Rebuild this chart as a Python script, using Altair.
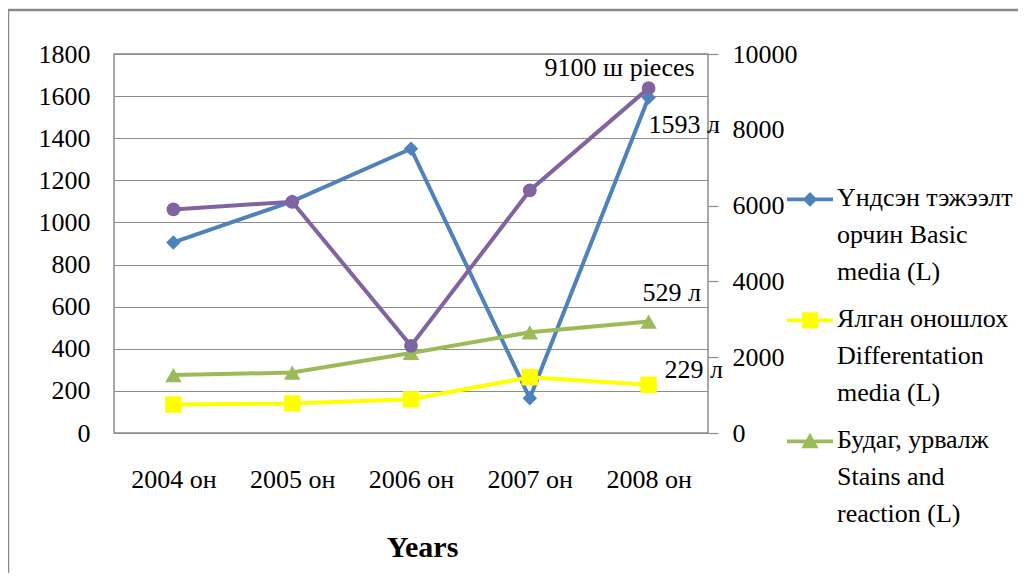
import altair as alt
import pandas as pd

# ---- data ----
years = ["2004 он", "2005 он", "2006 он", "2007 он", "2008 он"]
basic_media = [905, 1100, 1350, 165, 1593]
diff_media = [135, 140, 160, 265, 229]
stains = [275, 287, 380, 478, 529]
pieces = [5900, 6100, 2300, 6400, 9100]

series_names = [
    "Үндсэн тэжээлт|орчин Basic|media (L)",
    "Ялган оношлох|Differentation|media (L)",
    "Будаг, урвалж|Stains and|reaction (L)",
]
series_colors = ["#4F81BD", "#FFFF00", "#9BBB59"]
pieces_color = "#8064A2"
end_labels = ["1593 л", "229 л", "529 л"]
pieces_label = "9100 ш pieces"

FONT = "Liberation Serif"
FS = 26
GRID = "#8c8c8c"

# ---- tables ----
rows = []
for name, vals, lab in zip(series_names, [basic_media, diff_media, stains], end_labels):
    for i, (y, v) in enumerate(zip(years, vals)):
        rows.append({"year": y, "series": name, "value": v,
                     "label": lab if i == len(years) - 1 else ""})
left_df = pd.DataFrame(rows)
right_df = pd.DataFrame({"year": years, "value": pieces,
                         "label": [""] * (len(years) - 1) + [pieces_label]})

x_enc = alt.X("year:N", sort=years, title="Years",
              axis=alt.Axis(labelAngle=0, ticks=False, domain=False, grid=False,
                            labelPadding=33, titlePadding=40, titleFontSize=30,
                            titleFontWeight="bold", titleFont=FONT, titleColor="black",
                            titleX=308))
y_left = alt.Y("value:Q", title=None,
               scale=alt.Scale(domain=[0, 1800], nice=False),
               axis=alt.Axis(values=list(range(0, 1801, 200)), format="d", grid=True,
                             gridColor=GRID, gridWidth=1.2, ticks=False, domain=False,
                             labelPadding=24))
y_right = alt.Y("value:Q", title=None,
                scale=alt.Scale(domain=[0, 10000], nice=False),
                axis=alt.Axis(orient="right", values=list(range(0, 10001, 2000)), format="d",
                              grid=False, ticks=True, tickSize=10, tickColor=GRID,
                              tickWidth=1.2, domain=False, labelPadding=14))

base_left = alt.Chart(left_df)

marker_shapes = ["diamond", "square", "triangle-up"]
marker_sizes = [210, 270, 270]
label_offsets = [(0, 27, "left"), (16, -15, "left"), (-6, -29, "left")]

series_layers = []
for name, col, shp, sz in zip(series_names, series_colors, marker_shapes, marker_sizes):
    sub = base_left.transform_filter(alt.FieldEqualPredicate(field="series", equal=name))
    series_layers.append(sub.mark_line(strokeWidth=4, color=col).encode(x=x_enc, y=y_left))
    series_layers.append(
        sub.mark_point(shape=shp, size=sz, filled=True, opacity=1, color=col)
        .encode(x=x_enc, y=y_left)
    )
label_layers = []
for name, (dx, dy, al) in zip(series_names, label_offsets):
    label_layers.append(
        base_left.transform_filter(alt.FieldEqualPredicate(field="series", equal=name))
        .transform_filter(alt.datum.label != "")
        .mark_text(font=FONT, fontSize=FS, color="black", align=al, baseline="middle",
                   dx=dx, dy=dy)
        .encode(x=x_enc, y=y_left, text="label:N")
    )

# legend: line + marker symbols (only layer that carries colour/shape scales)
legend_paths = [
    "M-2,1.08H2V1.42H-2Z M0,0.6L0.65,1.25L0,1.9L-0.65,1.25Z",
    "M-2,1.08H2V1.42H-2Z M-0.7,0.55H0.7V1.95H-0.7Z",
    "M-2,1.08H2V1.42H-2Z M0,0.5L0.75,1.85H-0.75Z",
]
leg = alt.Legend(title=None, orient="none", legendX=683, legendY=118,
                 labelExpr="split(datum.label, '|')",
                 labelFont=FONT, labelFontSize=FS, labelColor="black", labelLimit=0,
                 labelBaseline="top", labelOffset=14, symbolSize=529, symbolStrokeWidth=0,
                 symbolOpacity=1, rowPadding=8)
legend_layer = base_left.mark_point(filled=True, opacity=0, size=529).encode(
    x=x_enc, y=y_left,
    color=alt.Color("series:N", sort=series_names,
                    scale=alt.Scale(domain=series_names, range=series_colors), legend=leg),
    shape=alt.Shape("series:N", sort=series_names,
                    scale=alt.Scale(domain=series_names, range=legend_paths), legend=leg),
)

left_group = alt.layer(legend_layer, *series_layers, *label_layers)

base_right = alt.Chart(right_df)
right_group = alt.layer(
    base_right.mark_line(strokeWidth=4, color=pieces_color).encode(x=x_enc, y=y_right),
    base_right.mark_point(shape="circle", size=190, filled=True, opacity=1, color=pieces_color)
    .encode(x=x_enc, y=y_right),
    base_right.transform_filter(alt.datum.label != "")
    .mark_text(font=FONT, fontSize=FS, color="black", align="right", baseline="middle",
               dx=46, dy=-20)
    .encode(x=x_enc, y=y_right, text="label:N"),
)

border = alt.Chart(pd.DataFrame({"a": [0]})).mark_rect(
    fillOpacity=0, stroke="#8a8a8a", strokeWidth=2.5
).encode(x=alt.value(-106), x2=alt.value(2000), y=alt.value(-44), y2=alt.value(900))

chart = (
    alt.layer(left_group, right_group, border)
    .resolve_scale(y="independent")
    .properties(width=594, height=379, autosize=alt.AutoSizeParams(type="none"),
                padding={"left": 106, "top": 46, "right": 310, "bottom": 140},
                background="white")
    .configure(style={"guide-label": {"lineHeight": 37, "font": FONT, "fill": "black"}})
    .configure_axis(labelFont=FONT, labelFontSize=FS, labelColor="black")
    .configure_legend(labelFont=FONT, labelFontSize=FS, labelColor="black")
    .configure_view(stroke=GRID, strokeWidth=1.5)
)

chart.save("out.html", embed_options={"renderer": "svg", "actions": False})
